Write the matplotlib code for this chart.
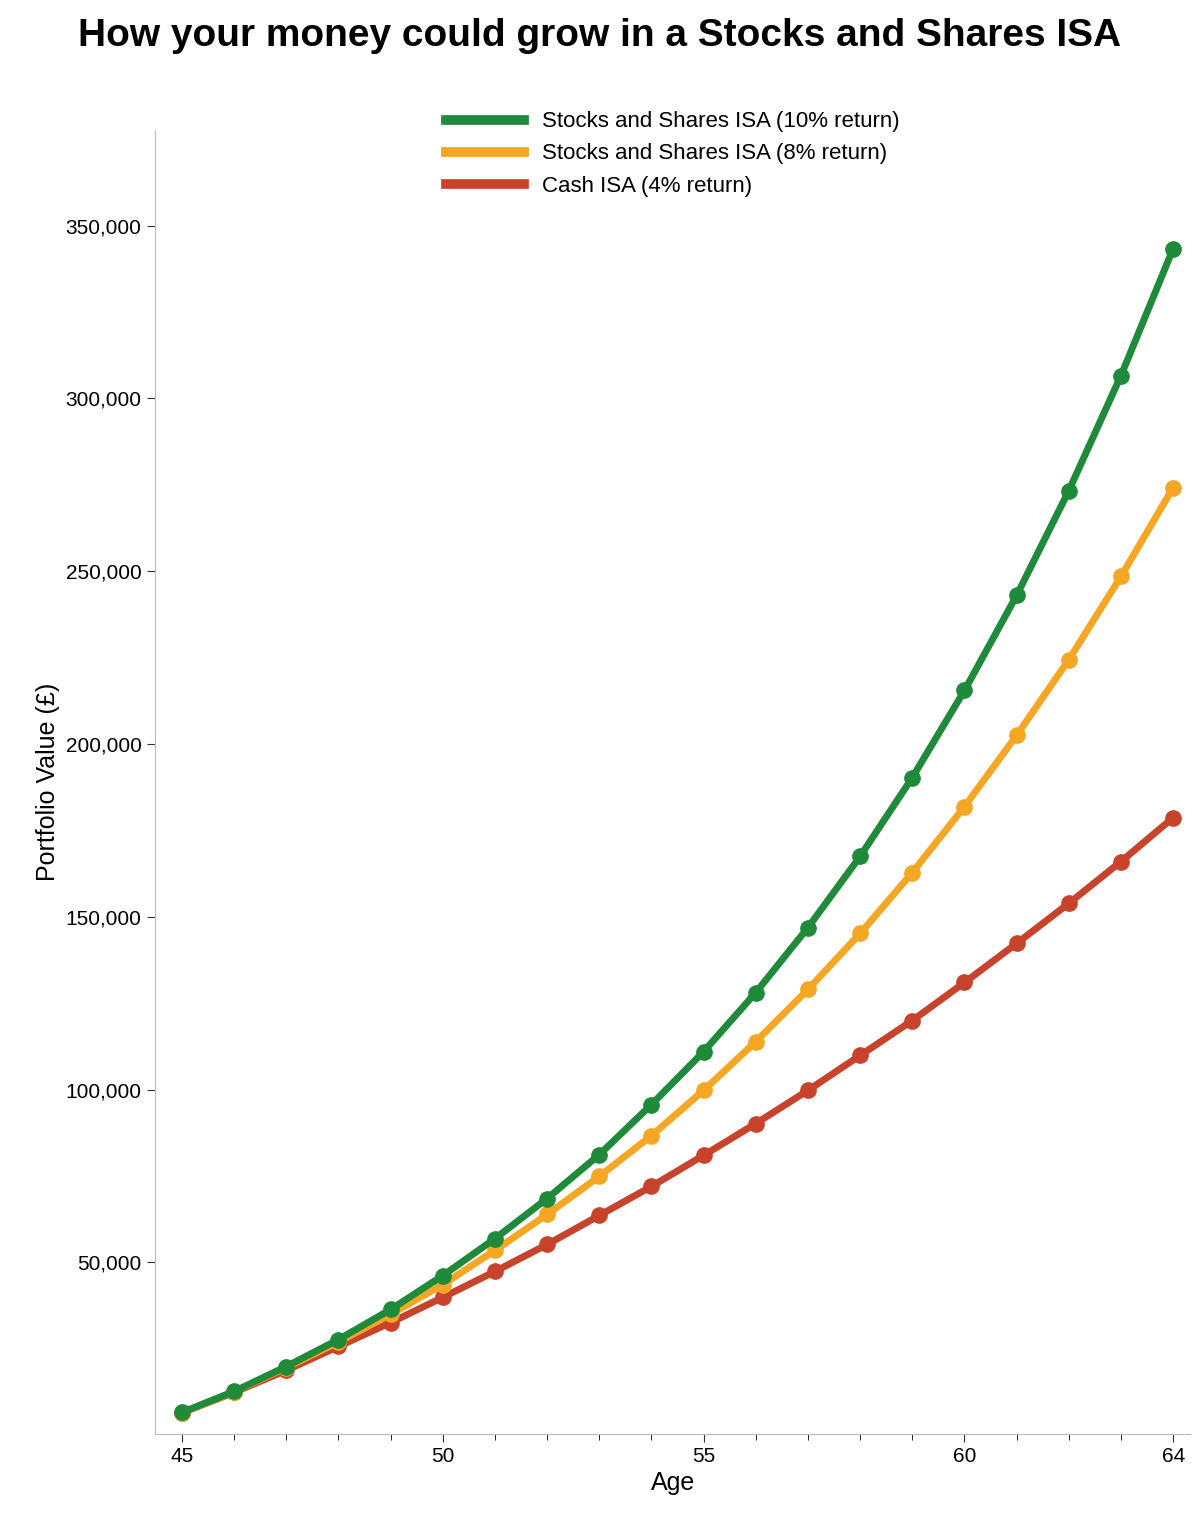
import matplotlib
matplotlib.use("Agg")
import matplotlib.pyplot as plt
from matplotlib.ticker import FuncFormatter, MultipleLocator

plt.rcParams['font.family'] = ['Liberation Sans', 'DejaVu Sans']

ages = list(range(45, 65))
isa10 = [6600, 12700, 19900, 27700, 36400, 46200, 56900, 68500, 81200, 95700, 111000,
         128100, 146900, 167500, 190300, 215500, 243000, 273300, 306600, 343300]
isa8 = [6500, 12600, 19600, 27000, 35000, 43600, 53500, 63900, 74900, 86700, 99800,
        113900, 129000, 145200, 162800, 181900, 202500, 224400, 248500, 274200]
cash4 = [6500, 12400, 18800, 25700, 32600, 39900, 47400, 55200, 63600, 72000, 81000,
         90200, 99800, 109900, 120000, 131000, 142300, 153900, 166000, 178700]
labels = ["Stocks and Shares ISA (10% return)", "Stocks and Shares ISA (8% return)", "Cash ISA (4% return)"]
colors = ["#1f8a3a", "#f5a623", "#c8432b"]

fig = plt.figure(figsize=(12, 15.17), dpi=100)
ax = fig.add_axes([0.129, 0.055, 0.863, 0.859])
for series, lab, col in [(cash4, labels[2], colors[2]), (isa8, labels[1], colors[1]), (isa10, labels[0], colors[0])]:
    ax.plot(ages, series, color=col, lw=5, marker='o', ms=11, label=lab)

h, l = ax.get_legend_handles_labels()
leg = ax.legend(h[::-1], l[::-1], loc='upper center', bbox_to_anchor=(0.5, 1.03), frameon=False,
                fontsize=16, handlelength=3.5, markerscale=0)
for line in leg.get_lines():
    line.set_marker('')
    line.set_linewidth(7)

ax.set_xlim(44.48, 64.33)
ax.set_ylim(500, 377500)
ax.xaxis.set_major_locator(MultipleLocator(5))
ax.xaxis.set_minor_locator(MultipleLocator(1))
ax.set_xticks([45, 50, 55, 60, 64])
ax.set_yticks([50000, 100000, 150000, 200000, 250000, 300000, 350000])
ax.yaxis.set_major_formatter(FuncFormatter(lambda v, p: f"{int(v):,}"))
ax.tick_params(labelsize=15, length=6, color='#333333')
ax.tick_params(which='minor', length=4)
for s in ['top', 'right']:
    ax.spines[s].set_visible(False)
for s in ['left', 'bottom']:
    ax.spines[s].set_color('#bbbbbb')
ax.set_xlabel("Age", fontsize=18)
ax.set_ylabel("Portfolio Value (£)", fontsize=18)
fig.suptitle("How your money could grow in a Stocks and Shares ISA", fontsize=28, fontweight='bold', y=0.988)
fig.savefig("out.png", dpi=100, facecolor='white')
